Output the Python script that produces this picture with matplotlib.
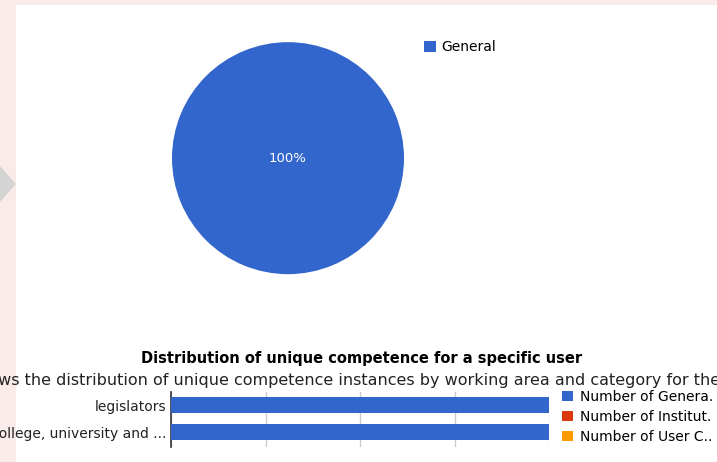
import matplotlib.pyplot as plt
from matplotlib.patches import Rectangle, Polygon

# ── data ─────────────────────────────────────────────
pie_labels = ["General"]
pie_values = [1]

bar_categories = ["legislators", "College, university and ..."]
bar_series = ["Number of Genera.", "Number of Institut.", "Number of User C.."]
general_counts = [1, 1]
institut_counts = [0, 0]
user_counts = [0, 0]

BLUE, RED, ORANGE = "#3366cc", "#dc3912", "#ff9900"
W, H = 717, 462


def box(left, top, width, height):
    # pixel box (from top-left) -> figure fraction
    return [left / W, 1 - (top + height) / H, width / W, height / H]


fig = plt.figure(figsize=(W / 100, H / 100), dpi=100)
fig.patch.set_facecolor("#f9ebea")

# white page panel and the little grey arrow on the left (behind the axes)
fig.patches.append(Rectangle((16 / W, 0), 1, 1 - 5 / H, transform=fig.transFigure,
                             facecolor="white", edgecolor="none", zorder=-2))
fig.patches.append(Polygon([(0, 1 - 166 / H), (16 / W, 1 - 184 / H), (0, 1 - 202 / H)],
                           closed=True, transform=fig.transFigure,
                           facecolor="#d4d4d4", edgecolor="none", zorder=-1))

# ── pie ──────────────────────────────────────────────
ax_pie = fig.add_axes(box(172, 41, 232, 232))
ax_pie.patch.set_visible(False)
wedges, _, autotexts = ax_pie.pie(pie_values, colors=[BLUE], autopct="%1.0f%%",
                                  labeldistance=None, pctdistance=0.0,
                                  textprops=dict(color="white", fontsize=9.5))
ax_pie.set_xlim(-1, 1)
ax_pie.set_ylim(-0.99, 1.01)
ax_pie.set_aspect("equal")
ax_pie.legend(wedges, pie_labels, loc="upper left",
              bbox_to_anchor=(424 / W, 1 - 40 / H), bbox_transform=fig.transFigure,
              frameon=False, fontsize=10, handlelength=0.85, handleheight=0.85,
              handletextpad=0.4, borderpad=0, borderaxespad=0)

# ── horizontal bar chart ─────────────────────────────
fig.text(362 / W, 1 - 358 / H, "Distribution of unique competence for a specific user",
         ha="center", va="center", fontsize=10.5, fontweight="bold", color="#000000")
# the page cuts this subtitle off on both sides, as in the screenshot
fig.text(364 / W, 1 - 380 / H,
         "Shows the distribution of unique competence instances by working area and category for the user",
         ha="center", va="center", fontsize=11.5, color="#222222")

ax = fig.add_axes(box(171, 392, 378, 55))
ax.patch.set_visible(False)
ypos = list(range(len(bar_categories)))
bh = 0.59
lefts = [0] * len(bar_categories)
for vals, name, col in [(general_counts, bar_series[0], BLUE),
                        (institut_counts, bar_series[1], RED),
                        (user_counts, bar_series[2], ORANGE)]:
    ax.barh(ypos, vals, height=bh, left=lefts, color=col, label=name, zorder=3)
    lefts = [a + b for a, b in zip(lefts, vals)]

ax.set_xlim(0, 1)
ax.set_ylim(1.55, -0.48)
ax.set_xticks([0, 0.25, 0.5, 0.75, 1])
ax.set_xticklabels([])
ax.tick_params(axis="x", length=0)
ax.grid(axis="x", color="#cccccc", linewidth=1, zorder=0)
ax.set_yticks(ypos)
ax.set_yticklabels(bar_categories, fontsize=10, color="#222222")
ax.tick_params(axis="y", length=0, pad=3)
for side in ["top", "right", "bottom"]:
    ax.spines[side].set_visible(False)
ax.spines["left"].set_color("#333333")
ax.spines["left"].set_linewidth(1.2)

ax.legend(loc="upper left", bbox_to_anchor=(562 / W, 1 - 390 / H),
          bbox_transform=fig.transFigure, frameon=False, fontsize=10,
          handlelength=0.8, handleheight=0.8, handletextpad=0.5,
          labelspacing=0.42, borderpad=0, borderaxespad=0)

fig.savefig("out.png", dpi=100, facecolor=fig.get_facecolor())
